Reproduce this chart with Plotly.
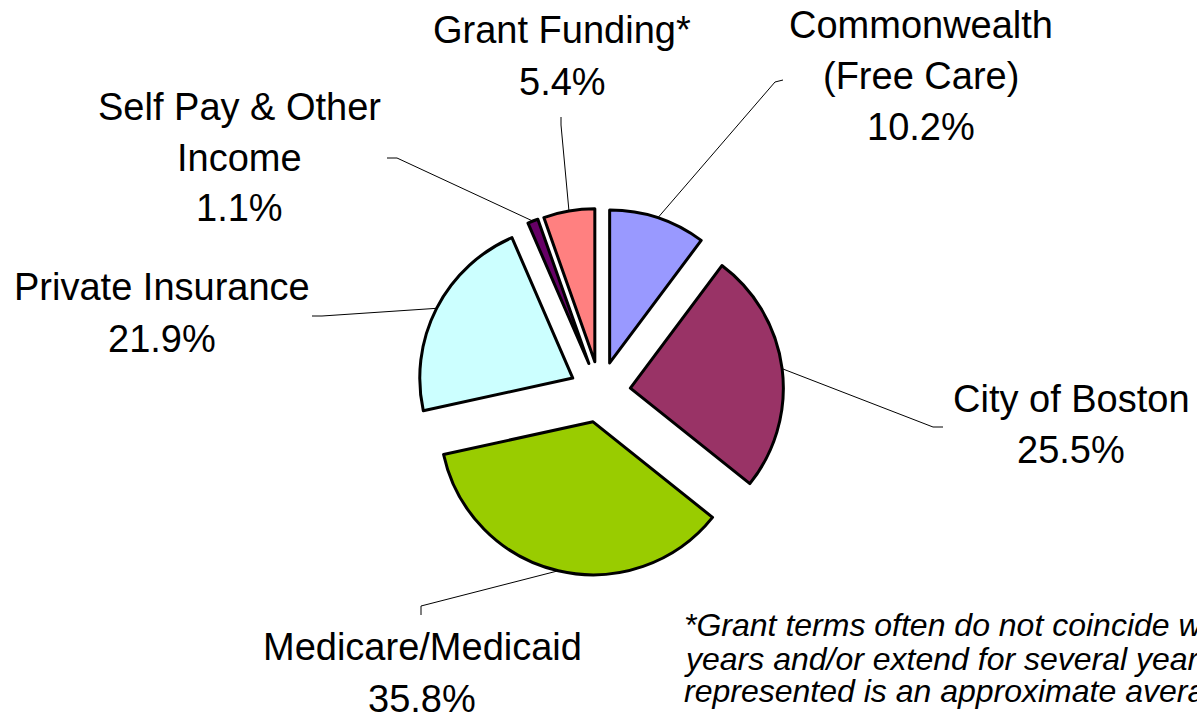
import math
import plotly.graph_objects as go

# ---- data ----
categories = ["Commonwealth (Free Care)", "City of Boston", "Medicare/Medicaid",
              "Private Insurance", "Self Pay & Other Income", "Grant Funding*"]
shares = [10.2, 25.5, 35.8, 21.9, 1.1, 5.4]
label_lines = [
    ["Commonwealth", "(Free Care)", "10.2%"],
    ["City of Boston", "25.5%"],
    ["Medicare/Medicaid", "35.8%"],
    ["Private Insurance", "21.9%"],
    ["Self Pay & Other", "Income", "1.1%"],
    ["Grant Funding*", "5.4%"],
]
colors = ["#9999FF", "#993366", "#99CC00", "#CCFFFF", "#660066", "#FF8080"]
footnote_lines = [
    "*Grant terms often do not coincide with fiscal",
    "years and/or extend for several years. Amount",
    "represented is an approximate average.",
]

# ---- layout constants (pixels) ----
W, H = 1197, 715
CX, CY = 600, 392          # pie centre
R = 153                    # pie radius
PULL = 0.2                 # explode fraction of radius
EXT = R * (1 + PULL)

dom_x = [(CX - EXT) / W, (CX + EXT) / W]
dom_y = [(H - CY - EXT) / H, (H - CY + EXT) / H]

# label anchor: (centre x, first line centre y, line spacing)
label_pos = [
    (921, 25, 51),
    (1071, 398.5, 51),
    (422, 646.5, 52),
    (162, 286.5, 52),
    (239, 107.5, 50),
    (562, 30, 51.5),
]
# leader line end (elbow point, final point)
leader_ends = [
    ((775, 82), (783, 80)),
    ((933, 427), (943, 427)),
    ((421, 606), (421, 615)),
    ((322, 316), (312, 316)),
    ((397, 158), (387, 158)),
    ((561, 125), (561, 117)),
]

fig = go.Figure(go.Pie(
    labels=categories, values=shares, sort=False, direction="clockwise",
    rotation=0, pull=[PULL] * len(shares), textinfo="none", hoverinfo="label+percent",
    marker=dict(colors=colors, line=dict(color="black", width=3)),
    domain=dict(x=dom_x, y=dom_y), showlegend=False,
))

def px2paper(x, y):
    return x / W, 1 - y / H

shapes = []
total = sum(shares)
cum = 0
for i, v in enumerate(shares):
    mid = (cum + v / 2) / total * 2 * math.pi
    cum += v
    sx = CX + (R * PULL + R) * math.sin(mid)
    sy = CY - (R * PULL + R) * math.cos(mid)
    (ex, ey), (fx, fy) = leader_ends[i]
    p0 = px2paper(sx, sy); p1 = px2paper(ex, ey); p2 = px2paper(fx, fy)
    shapes.append(dict(type="path", xref="paper", yref="paper",
                       path=f"M {p0[0]},{p0[1]} L {p1[0]},{p1[1]} L {p2[0]},{p2[1]}",
                       line=dict(color="black", width=1)))

annotations = []
FONT = "Arial, 'Liberation Sans', sans-serif"
for lines, (lx, ly, sp) in zip(label_lines, label_pos):
    for k, t in enumerate(lines):
        x, y = px2paper(lx, ly + k * sp)
        annotations.append(dict(text=t, x=x, y=y, xref="paper", yref="paper",
                                xanchor="center", yanchor="middle", showarrow=False,
                                font=dict(family=FONT, size=38, color="black")))

foot_y = [625, 659, 691]
for t, fy in zip(footnote_lines, foot_y):
    x, y = px2paper(682, fy)
    annotations.append(dict(text=f"<i>{t}</i>", x=x, y=y, xref="paper", yref="paper",
                            xanchor="left", yanchor="middle", showarrow=False,
                            font=dict(family=FONT, size=32, color="black")))

fig.update_layout(
    width=W, height=H, margin=dict(l=0, r=0, t=0, b=0),
    paper_bgcolor="white", plot_bgcolor="white",
    shapes=shapes, annotations=annotations,
)
fig.write_html("out.html", config={"displayModeBar": False},
               post_script="document.body.style.margin='0';document.body.style.overflow='hidden';")
